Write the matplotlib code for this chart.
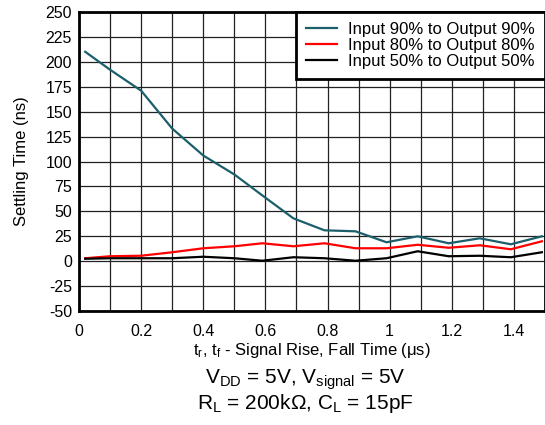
import matplotlib
matplotlib.use("Agg")
import matplotlib.pyplot as plt
import numpy as np

plt.rcParams.update({
    "font.family": ["Liberation Sans", "DejaVu Sans"],
    "mathtext.fontset": "custom",
    "mathtext.rm": "Liberation Sans",
    "mathtext.it": "Liberation Sans",
    "axes.unicode_minus": False,
})

TEAL, RED, BLACK = "#1B5F6B", "#FF0000", "#000000"

rise_time = [0.02, 0.1, 0.2, 0.3, 0.4, 0.5, 0.59, 0.69, 0.79, 0.89, 0.99, 1.09, 1.19, 1.29, 1.39, 1.49]
settle_90 = [210, 192, 171, 133, 106, 87, 66, 43, 31, 30, 19, 25, 18, 23, 17, 25]
settle_80 = [3, 5, 5.5, 9, 13, 15, 18, 15, 18, 13, 13, 16.5, 13.5, 16, 12, 20]
settle_50 = [2.5, 3, 3, 3, 4.5, 3, 0.5, 4, 3, 0.5, 3, 10, 5, 5.5, 4, 9]

labels = ["Input 90% to Output 90%", "Input 80% to Output 80%", "Input 50% to Output 50%"]
xticks = [0, 0.2, 0.4, 0.6, 0.8, 1, 1.2, 1.4]
xtick_labels = ["0", "0.2", "0.4", "0.6", "0.8", "1", "1.2", "1.4"]
yticks = list(range(-50, 251, 25))

fig = plt.figure(figsize=(5.45, 4.25), dpi=100)
ax = fig.add_axes([0.145, 0.268, 0.855, 0.704])

ax.plot(rise_time, settle_90, color=TEAL, lw=1.6, label=labels[0])
ax.plot(rise_time, settle_80, color=RED, lw=1.6, label=labels[1])
ax.plot(rise_time, settle_50, color=BLACK, lw=1.6, label=labels[2])

ax.set_xlim(0, 1.5)
ax.set_ylim(-50, 250)
ax.set_xticks(np.arange(0, 1.51, 0.1), minor=True)
ax.set_xticks(xticks)
ax.set_xticklabels(xtick_labels)
ax.set_yticks(yticks)
ax.set_yticklabels([str(v) for v in yticks])
ax.grid(True, which="both", color="#222222", lw=0.9)
ax.set_axisbelow(True)
ax.tick_params(which="both", length=0, labelsize=11.5)
ax.tick_params(axis="x", pad=9)
ax.tick_params(axis="y", pad=5)
for s in ax.spines.values():
    s.set_linewidth(2)

ax.set_ylabel("Settling Time (ns)", fontsize=12, labelpad=12)
ax.set_xlabel(r"$\mathregular{t_r}$, $\mathregular{t_f}$ - Signal Rise, Fall Time ($\mu$s)",
              fontsize=12, labelpad=2)

leg = ax.legend(loc="upper right", fontsize=12, frameon=True, fancybox=False,
                framealpha=1, edgecolor="black", borderpad=0.6, handlelength=1.9,
                handletextpad=0.65, labelspacing=0.05, borderaxespad=0)
leg.get_frame().set_linewidth(2)

fig.text(0.56, 0.107, r"$\mathregular{V_{DD}}$ = 5V, $\mathregular{V_{signal}}$ = 5V",
         ha="center", va="center", fontsize=15)
fig.text(0.56, 0.05, r"$\mathregular{R_L}$ = 200kΩ, $\mathregular{C_L}$ = 15pF",
         ha="center", va="center", fontsize=15)

fig.savefig("out.png", dpi=100)
